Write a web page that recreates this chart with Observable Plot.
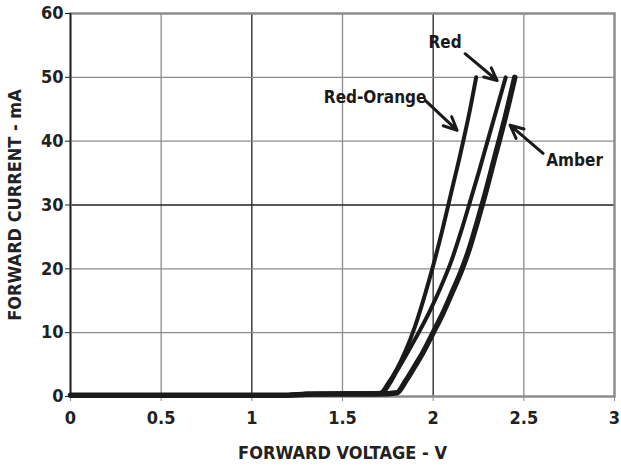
<!DOCTYPE html>
<html><head><meta charset="utf-8">
<script src="https://cdn.jsdelivr.net/npm/d3@7"></script>
<script src="https://cdn.jsdelivr.net/npm/@observablehq/plot@0.6"></script>
<style>
body{margin:0;background:#fff;}
svg{font-family:"DejaVu Sans Condensed","DejaVu Sans",sans-serif;font-stretch:condensed;}
</style></head><body>
<div id="chart"></div>
<script>
const xTicks = [0, 0.5, 1, 1.5, 2, 2.5, 3];
const yTicks = [0, 10, 20, 30, 40, 50, 60];
const darkGridX = [1, 2];
const darkGridY = [30];

const redOrangeV = [0, 0.3, 1.0, 1.2, 1.3, 1.65, 1.71, 1.75, 1.8, 1.85, 1.9, 1.95, 2.0, 2.05, 2.1, 2.15, 2.2, 2.237];
const redOrangeI = [0.2, 0.2, 0.2, 0.25, 0.45, 0.5, 0.6, 2, 4.3, 7.3, 11, 15.5, 20.5, 26, 32, 38, 44.5, 50];
const redV = [0, 1.2, 1.3, 1.65, 1.72, 1.76, 1.8, 1.855, 1.92, 1.98, 2.04, 2.1, 2.15, 2.2, 2.25, 2.3, 2.35, 2.40];
const redI = [0.2, 0.25, 0.45, 0.5, 0.6, 2, 4, 6.7, 10, 13.3, 17, 21.2, 25.5, 30.2, 35, 40, 45, 50];
const amberV = [0, 1.2, 1.3, 1.7, 1.8, 1.85, 1.9, 1.94, 2.0, 2.05, 2.1, 2.16, 2.2, 2.24, 2.28, 2.34, 2.4, 2.45];
const amberI = [0.2, 0.2, 0.35, 0.4, 0.6, 2.5, 4.8, 6.7, 10, 12.8, 16, 20, 23.2, 27, 31, 37.5, 44, 50];

const labels = ["Red-Orange", "Red", "Amber"];
const labelX = [1.68, 2.066, 2.78];
const labelY = [46.8, 55.5, 37];
const arrowX1 = [1.956, 2.176, 2.606];
const arrowY1 = [46.4, 53.7, 38.1];
const arrowX2 = [2.132, 2.353, 2.424];
const arrowY2 = [41.7, 49.5, 42.5];

const toRows = (name, V, I) => V.map((v, i) => ({series: name, v, i: I[i]}));
const rows = [
  ...toRows("Red-Orange", redOrangeV, redOrangeI),
  ...toRows("Red", redV, redI),
  ...toRows("Amber", amberV, amberI)
];
const ann = labels.map((t, k) => ({t, x: labelX[k], y: labelY[k], x1: arrowX1[k], y1: arrowY1[k], x2: arrowX2[k], y2: arrowY2[k]}));

const gray = "#8c8c8c";
const plot = Plot.plot({
  width: 621,
  height: 472,
  marginLeft: 70,
  marginRight: 7,
  marginTop: 13,
  marginBottom: 76,
  style: {fontFamily: '"DejaVu Sans Condensed","DejaVu Sans",sans-serif', background: "#fff"},
  x: {domain: [0, 3]},
  y: {domain: [0, 60]},
  marks: [
    Plot.ruleX(xTicks.filter(d => d > 0 && d < 3), {x: d => d, stroke: d => darkGridX.includes(d) ? "#222" : gray, strokeWidth: 1.3}),
    Plot.ruleY(yTicks.filter(d => d > 0 && d < 60), {y: d => d, stroke: d => darkGridY.includes(d) ? "#222" : gray, strokeWidth: 1.3}),
    Plot.frame({stroke: gray, strokeWidth: 2.5}),
    Plot.ruleX([0], {stroke: "#222", strokeWidth: 1.5}),
    Plot.axisY({ticks: yTicks, tickSize: 5, tickPadding: 2, fontSize: 18, fontWeight: "bold", fill: "#222", stroke: "#222", label: "FORWARD CURRENT - mA", labelAnchor: "center", labelArrow: "none", labelOffset: 62, tickFormat: d => d}),
    Plot.axisX({ticks: xTicks, tickSize: 5, tickPadding: 10, fontSize: 18, fontWeight: "bold", fill: "#222", stroke: gray, label: "FORWARD VOLTAGE - V", labelAnchor: "center", labelArrow: "none", labelOffset: 62, tickFormat: d => d}),
    Plot.line(rows, {x: "v", y: "i", z: "series", stroke: "#1a1a1a", strokeWidth: d => d.series === "Amber" ? 5.5 : 4, curve: "monotone-x"}),
    Plot.arrow(ann, {x1: "x1", y1: "y1", x2: "x2", y2: "y2", stroke: "#1a1a1a", strokeWidth: 3, headLength: 14, headAngle: 50}),
    Plot.text(ann, {x: "x", y: "y", text: "t", fontSize: 17, fontWeight: "bold", fill: "#1a1a1a"})
  ]
});
document.getElementById("chart").appendChild(plot);
</script>
</body></html>
